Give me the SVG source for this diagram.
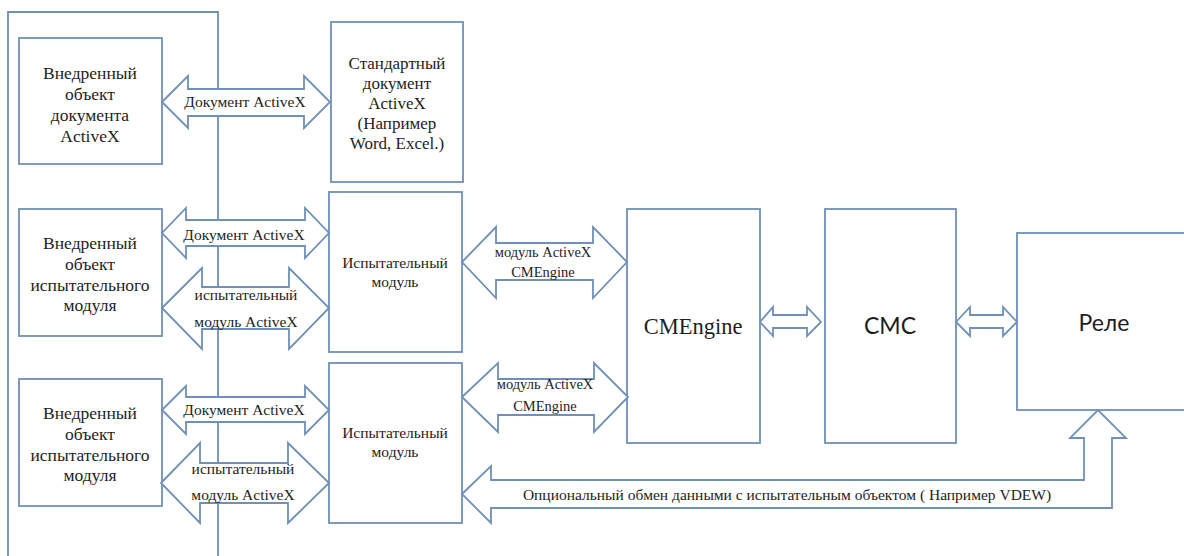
<svg xmlns="http://www.w3.org/2000/svg" width="1184" height="556" viewBox="0 0 1184 556">
<style>
.box{fill:#fff;stroke:#6f90b8;stroke-width:1.8}
.ar{fill:#fff;stroke:#6f90b8;stroke-width:1.8;stroke-linejoin:miter}
.ln{fill:none;stroke:#6f90b8;stroke-width:1.8}
.t{font-family:"Liberation Serif","Times New Roman",serif;font-size:15.5px;fill:#1e1e1e;text-anchor:middle}
.b{font-family:"Liberation Serif","Times New Roman",serif;font-size:17.5px;fill:#1e1e1e;text-anchor:middle}
.d{font-family:"Liberation Serif","Times New Roman",serif;font-size:17px;fill:#1e1e1e;text-anchor:middle}
.s{font-family:"Liberation Serif","Times New Roman",serif;font-size:14.5px;fill:#1e1e1e;text-anchor:middle}
.big{font-family:"Liberation Serif","Times New Roman",serif;font-size:22.5px;fill:#1e1e1e;text-anchor:middle}
.sans{font-family:Lato,"Liberation Sans",sans-serif;font-size:23px;fill:#1e1e1e;text-anchor:middle}
</style>
<rect width="1184" height="556" fill="#fff"/>
<g id="container">
<path class="ln" d="M8,556 V12 H218 V556"/>
</g>
<g id="embedded-doc">
<rect class="box" x="19" y="38" width="143" height="126"/>
<text class="b" x="90" y="79">Внедренный</text>
<text class="b" x="90" y="100">объект</text>
<text class="b" x="90" y="121">документа</text>
<text class="b" x="90" y="142">ActiveX</text>
</g>
<g id="standard-doc">
<rect class="box" x="331" y="22" width="132" height="160"/>
<text class="d" x="397" y="69">Стандартный</text>
<text class="d" x="397" y="89">документ</text>
<text class="d" x="397" y="109">ActiveX</text>
<text class="d" x="397" y="129">(Например</text>
<text class="d" x="397" y="149">Word, Excel.)</text>
</g>
<g id="embedded-test-1">
<rect class="box" x="19" y="209" width="143" height="127"/>
<text class="b" x="90" y="249">Внедренный</text>
<text class="b" x="90" y="270">объект</text>
<text class="b" x="90" y="291">испытательного</text>
<text class="b" x="90" y="311">модуля</text>
</g>
<g id="embedded-test-2">
<rect class="box" x="19" y="379" width="143" height="127"/>
<text class="b" x="90" y="419">Внедренный</text>
<text class="b" x="90" y="440">объект</text>
<text class="b" x="90" y="461">испытательного</text>
<text class="b" x="90" y="481">модуля</text>
</g>
<g id="test-module-1">
<rect class="box" x="329" y="192" width="133" height="160"/>
<text class="t" x="395" y="268">Испытательный</text>
<text class="t" x="395" y="287">модуль</text>
</g>
<g id="test-module-2">
<rect class="box" x="329" y="363" width="133" height="160"/>
<text class="t" x="395" y="438">Испытательный</text>
<text class="t" x="395" y="457">модуль</text>
</g>
<g id="cmengine">
<rect class="box" x="627" y="209" width="133" height="234"/>
<text class="big" x="693" y="334">CMEngine</text>
</g>
<g id="cmc">
<rect class="box" x="825" y="209" width="131" height="234"/>
<text class="sans" x="890" y="334">CMC</text>
</g>
<g id="relay">
<rect class="box" x="1017" y="233" width="180" height="177"/>
<text class="sans" x="1104" y="331">Реле</text>
</g>
<g id="connectors">
<polygon class="ar" points="162,102 188,76 188,89 304,89 304,76 330,102 304,128 304,116 188,116 188,128"/>
<text class="t" x="245" y="107">Документ ActiveX</text>
<polygon class="ar" points="162,233 186,208 186,220 305,220 305,208 329,233 305,258 305,246 186,246 186,258"/>
<text class="t" x="244" y="240">Документ ActiveX</text>
<polygon class="ar" points="162,308 202,268 202,287 289,287 289,268 329,308 289,349 289,329 202,329 202,349"/>
<text class="t" x="246" y="300">испытательный</text>
<text class="t" x="246" y="327">модуль ActiveX</text>
<polygon class="ar" points="162,410 186,386 186,397 305,397 305,386 329,410 305,434 305,422 186,422 186,434"/>
<text class="t" x="244" y="415">Документ ActiveX</text>
<polygon class="ar" points="161,483 200,443 200,463 288,463 288,443 329,483 288,523 288,503 200,503 200,523"/>
<text class="t" x="243" y="474">испытательный</text>
<text class="t" x="243" y="500">модуль ActiveX</text>
<polygon class="ar" points="462,262 496,227 496,243 593,243 593,227 627,262 593,298 593,280 496,280 496,298"/>
<text class="s" x="543" y="257">модуль ActiveX</text>
<text class="s" x="543" y="277">CMEngine</text>
<polygon class="ar" points="462,397 498,363 498,379 594,379 594,363 628,397 594,432 594,415 498,415 498,432"/>
<text class="s" x="545" y="389">модуль ActiveX</text>
<text class="s" x="545" y="411">CMEngine</text>
<polygon class="ar" points="760,322 773,307 773,315 807,315 807,307 821,322 807,336 807,328 773,328 773,336"/>
<polygon class="ar" points="956,322 970,307 970,315 1003,315 1003,307 1017,322 1003,336 1003,328 970,328 970,336"/>
<polygon class="ar" points="462,494 491,466 491,480 1084,480 1084,438 1070,438 1098,410 1126,438 1112,438 1112,508 491,508 491,523"/>
<text class="t" x="787" y="500">Опциональный обмен данными с испытательным объектом ( Например VDEW)</text>
</g>
</svg>
